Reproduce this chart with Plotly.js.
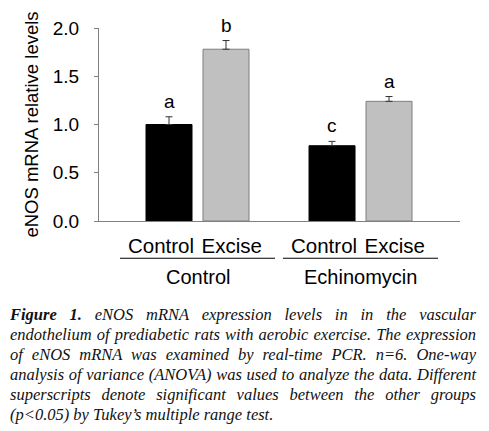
<!DOCTYPE html>
<html>
<head>
<meta charset="utf-8">
<script src="https://cdn.plot.ly/plotly-3.0.1.min.js"></script>
<style>
  html, body { margin: 0; padding: 0; background: #fff; }
  #wrap { position: relative; width: 489px; height: 431px; overflow: hidden; }
  #chart { position: absolute; left: 0; top: 0; width: 489px; height: 431px; }
  #caption {
    position: absolute; left: 10px; top: 305px; width: 466px;
    font-family: "Liberation Serif", "Times New Roman", serif;
    font-style: italic; font-size: 16.5px; line-height: 20px; color: #111;
  }
  #caption div { text-align: justify; text-align-last: justify; white-space: nowrap; }
  #caption div.last { text-align-last: left; }
</style>
</head>
<body>
<div id="wrap">
  <div id="chart"></div>
  <div id="caption"></div>
</div>
<script>
// ---- data ----
const groups = ["Control", "Echinomycin"];
const treatments = ["Control", "Excise"];
const controlMeans = [1.00, 0.78];
const controlErrors = [0.08, 0.045];
const controlLetters = ["a", "c"];
const exciseMeans = [1.78, 1.24];
const exciseErrors = [0.09, 0.05];
const exciseLetters = ["b", "a"];
const yTickValues = [0.0, 0.5, 1.0, 1.5, 2.0];
const yTitle = "eNOS mRNA relative levels";
const captionLines = [
  "<b>Figure 1.</b> eNOS mRNA expression levels in in the vascular",
  "endothelium of prediabetic rats with aerobic exercise. The expression",
  "of eNOS mRNA was examined by real-time PCR. n=6. One-way",
  "analysis of variance (ANOVA) was used to analyze the data. Different",
  "superscripts denote significant values between the other groups",
  "(p&lt;0.05) by Tukey\u2019s multiple range test."
];

// ---- layout helpers ----
const GROUP_STEP = 2.86;
const BAR_WIDTH = 0.807;
const LABEL_SHIFT = [-0.14, 0.1];
const pos = (g, t) => g * GROUP_STEP + t;

const series = [
  { name: treatments[0], means: controlMeans, errs: controlErrors, letters: controlLetters,
    fill: "#000000", line: "#000000" },
  { name: treatments[1], means: exciseMeans, errs: exciseErrors, letters: exciseLetters,
    fill: "#c0c0c0", line: "#7f7f7f" }
];

const traces = series.map((s, t) => ({
  type: "bar",
  name: s.name,
  x: groups.map((_, g) => pos(g, t)),
  y: s.means,
  width: BAR_WIDTH,
  marker: { color: s.fill, line: { color: s.line, width: 1 } },
  error_y: { type: "data", symmetric: false, array: s.errs,
             arrayminus: s.errs.map(() => 0), color: "#333333", thickness: 1, width: 3.5 },
  hoverinfo: "skip"
}));

const annotations = [];
series.forEach((s, t) => {
  groups.forEach((_, g) => {
    annotations.push({
      x: pos(g, t), y: s.means[g] + s.errs[g], xref: "x", yref: "y",
      text: s.letters[g], showarrow: false, yanchor: "bottom", yshift: 3,
      font: { size: 19, color: "#000" }
    });
  });
});
groups.forEach((gname, g) => {
  annotations.push({
    x: pos(g, 0.5), y: -0.29, xref: "x", yref: "paper",
    text: gname, showarrow: false, yanchor: "middle",
    font: { size: 20, color: "#000" }
  });
});

const shapes = groups.map((_, g) => ({
  type: "line", xref: "x", yref: "paper",
  x0: pos(g, 0.5) - 1.36, x1: pos(g, 0.5) + 1.36, y0: -0.193, y1: -0.193,
  line: { color: "#000", width: 1 }
}));

const tickVals = [], tickText = [];
groups.forEach((_, g) => treatments.forEach((tr, t) => {
  tickVals.push(pos(g, t) + LABEL_SHIFT[t]);
  tickText.push(tr);
}));

const layout = {
  width: 489, height: 431,
  margin: { l: 99, r: 29, t: 28, b: 210 },
  paper_bgcolor: "#fff", plot_bgcolor: "#fff",
  font: { family: "Liberation Sans, Arial, sans-serif", color: "#000" },
  showlegend: false,
  barmode: "overlay",
  xaxis: {
    range: [-1.228, 5.105], showgrid: false, zeroline: false,
    showline: true, linecolor: "#808080", linewidth: 1,
    ticks: "", tickmode: "array", tickvals: tickVals, ticktext: tickText,
    tickfont: { size: 20.5 }, ticklabelstandoff: 6, fixedrange: true
  },
  yaxis: {
    range: [0, 2.0], showgrid: false, zeroline: false,
    showline: true, linecolor: "#808080", linewidth: 1,
    ticks: "outside", ticklen: 4, tickcolor: "#808080",
    tickmode: "array", tickvals: yTickValues, tickformat: ".1f",
    tickfont: { size: 19 }, ticklabelstandoff: 11,
    title: { text: yTitle, font: { size: 18.5 }, standoff: 9 },
    fixedrange: true
  },
  annotations: annotations,
  shapes: shapes
};

Plotly.newPlot("chart", traces, layout, { displayModeBar: false, staticPlot: true });

document.getElementById("caption").innerHTML = captionLines
  .map((l, i) => `<div class="${i === captionLines.length - 1 ? 'last' : ''}">${l}</div>`).join("");
</script>
</body>
</html>
